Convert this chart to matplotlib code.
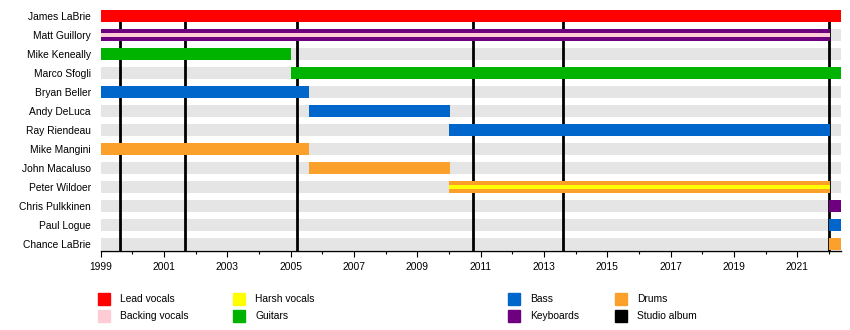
import numpy as np
import matplotlib
matplotlib.use('Agg')
import matplotlib.pyplot as plt
from matplotlib.patches import Rectangle

plt.rcParams['font.family'] = ['Liberation Sans', 'DejaVu Sans']

# band members, top to bottom
members = ['James LaBrie', 'Matt Guillory', 'Mike Keneally', 'Marco Sfogli',
           'Bryan Beller', 'Andy DeLuca', 'Ray Riendeau', 'Mike Mangini',
           'John Macaluso', 'Peter Wildoer', 'Chris Pulkkinen', 'Paul Logue',
           'Chance LaBrie']
start = [1999.0, 1999.0, 1999.0, 2005.0, 1999.0, 2005.57, 2010.0, 1999.0,
         2005.57, 2010.0, 2022.0, 2022.0, 2022.0]
end = [2022.38, 2022.02, 2005.02, 2022.38, 2005.58, 2010.02, 2022.02, 2005.58,
       2010.02, 2022.02, 2022.38, 2022.38, 2022.38]
main_role = ['Lead vocals', 'Keyboards', 'Guitars', 'Guitars', 'Bass', 'Bass',
             'Bass', 'Drums', 'Drums', 'Drums', 'Keyboards', 'Bass', 'Drums']
second_role = [None, 'Backing vocals', None, None, None, None, None, None,
               None, 'Harsh vocals', None, None, None]

albums = [1999.61, 2001.67, 2005.21, 2010.75, 2013.59, 2022.01]
timeline_start = 1999.0
timeline_end = 2022.38

colors = {
    'Lead vocals': '#ff0000',
    'Backing vocals': '#ffccd5',
    'Harsh vocals': '#ffff00',
    'Guitars': '#00b300',
    'Bass': '#0066cc',
    'Keyboards': '#6e0080',
    'Drums': '#fca02c',
    'Studio album': '#000000',
}

W, H = 850, 330
fig = plt.figure(figsize=(W / 100, H / 100), dpi=100)
ax = fig.add_axes([100.7 / W, 1 - 250.7 / H, (841 - 100.7) / W, (250.7 - 9.9) / H])

y = np.arange(len(members))
bar_h = 0.63

# grey background rows
ax.barh(y, timeline_end - timeline_start, left=timeline_start, height=bar_h,
        color='#e5e5e5', zorder=1)

# studio albums
for a in albums:
    ax.axvline(a, color='black', lw=2.0, zorder=2)

# member bars
for i in range(len(members)):
    ax.barh(i, end[i] - start[i], left=start[i], height=bar_h,
            color=colors[main_role[i]], zorder=3)
    if second_role[i]:
        ax.barh(i, end[i] - start[i], left=start[i], height=bar_h * 0.38,
                color=colors[second_role[i]], zorder=4)

ax.set_xlim(timeline_start, timeline_end)
ax.set_ylim(len(members) - 1 + 0.35, -0.32)

ax.set_yticks(y)
ax.set_yticklabels(members, fontsize=7.4)
ax.tick_params(axis='y', length=0, pad=7)

ax.set_xticks(np.arange(1999, 2022, 2))
ax.set_xticks(np.arange(2000, 2023, 2), minor=True)
ax.tick_params(axis='x', which='major', length=4, width=0.8, labelsize=7.4, pad=4)
ax.tick_params(axis='x', which='minor', length=2.5, width=0.8)

for s in ['top', 'right', 'left']:
    ax.spines[s].set_visible(False)
ax.spines['bottom'].set_linewidth(1.0)

# legend
legend_items = [('Lead vocals', 98, 299), ('Backing vocals', 98, 316),
                ('Harsh vocals', 233, 299), ('Guitars', 233, 316),
                ('Bass', 508, 299), ('Keyboards', 508, 316),
                ('Drums', 615, 299), ('Studio album', 615, 316)]
for name, px, py in legend_items:
    fig.add_artist(Rectangle((px / W, 1 - (py + 6) / H), 12 / W, 12 / H,
                             transform=fig.transFigure, color=colors[name]))
    fig.text((px + 22) / W, 1 - py / H, name, fontsize=7.4, va='center', ha='left')

fig.savefig('out.png', dpi=100)
